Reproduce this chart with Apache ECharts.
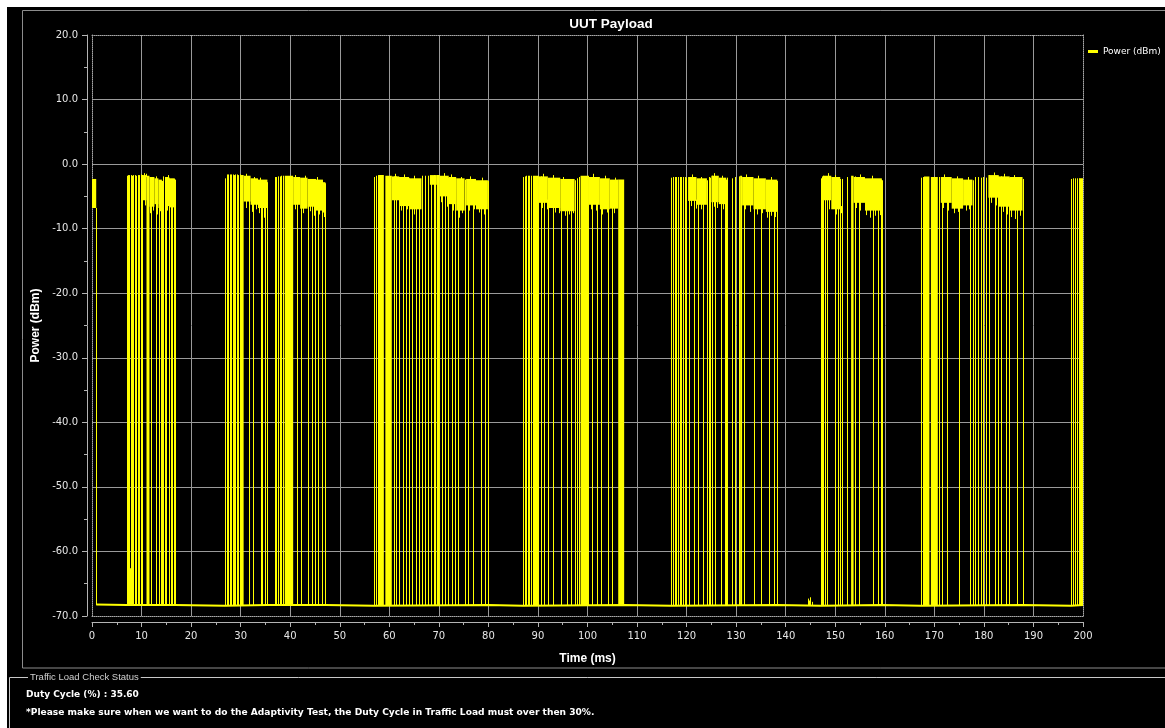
<!DOCTYPE html>
<html>
<head>
<meta charset="utf-8">
<script src="https://cdn.jsdelivr.net/npm/echarts@6/dist/echarts.min.js"></script>
<style>
html,body{margin:0;padding:0;background:#fff;}
#chart{width:1165px;height:728px;}
</style>
</head>
<body>
<div id="chart"></div>
<script>
// ---------- data (time in ms, power in dBm) ----------
const FLOOR = -68.3;

const xTicks = [0,10,20,30,40,50,60,70,80,90,100,110,120,130,140,150,160,170,180,190,200];
const yTicks = [-70,-60,-50,-40,-30,-20,-10,0,10,20];

// noise floor trace
const floorTrace = [[0.85,-68.2],[7.0,-68.3],[16.7,-68.3],[26.9,-68.4],[35.4,-68.3],[47.1,-68.3],
  [57.0,-68.4],[80.0,-68.3],[87.0,-68.4],[107.4,-68.3],[116.9,-68.4],[138.3,-68.3],[147.1,-68.4],
  [159.5,-68.3],[167.3,-68.4],[187.8,-68.3],[197.6,-68.4],[200,-68.3]];

// vertical packet edges: [time, peak level]
const packetEdges = [
  [0.85,-6.8],
  [7.0,-1.8],[7.3,-1.7],[7.5,-1.7],[7.6,-62.6],[7.8,-1.7],[8.1,-1.8],[8.3,-1.7],[8.6,-1.7],[8.9,-1.8],[9.2,-1.7],[9.5,-1.7],[9.8,-1.6],[10.0,-1.7],[10.1,-1.7],
  [12.0,-2.0],[12.9,-2.4],[13.6,-2.6],[13.9,-2.6],[14.1,-2.6],
  [14.3,-1.9],[14.7,-2.0],[15.0,-2.1],[15.5,-2.2],[15.9,-2.3],[16.2,-2.3],[16.5,-2.3],[16.7,-2.4],
  [26.9,-2.2],[27.2,-1.6],[27.5,-1.6],[27.8,-1.6],[28.1,-1.6],[28.4,-1.6],[28.6,-1.7],[28.9,-1.6],[29.2,-1.6],[29.5,-1.7],[29.8,-1.6],[30.0,-1.7],
  [31.7,-1.9],[32.5,-2.4],[34.2,-2.6],[34.4,-2.6],[35.0,-2.7],[35.4,-2.8],
  [36.9,-2.0],[37.2,-2.0],[37.6,-1.9],[37.9,-1.9],[38.2,-1.8],[38.6,-1.8],
  [41.4,-2.0],[42.1,-2.2],[43.5,-2.3],[44.3,-2.4],[45.0,-2.4],[45.7,-2.5],[46.4,-2.5],[47.0,-3.0],[47.1,-3.0],
  [57.0,-2.0],[57.4,-1.8],[57.8,-1.7],
  [60.9,-1.9],[61.4,-1.9],[61.9,-2.0],[62.7,-2.1],[63.3,-2.1],[63.9,-2.2],[64.6,-2.3],[65.3,-2.3],[65.9,-2.4],[66.5,-2.4],
  [66.6,-1.8],[67.2,-1.8],[67.8,-1.8],[68.5,-1.9],[69.0,-1.7],[69.3,-1.8],
  [70.7,-1.9],[71.3,-2.0],[71.9,-2.1],[72.6,-2.2],[73.2,-2.3],[73.8,-2.4],[75.3,-2.4],[75.9,-2.4],[76.8,-2.5],[78.6,-2.6],[79.4,-2.6],[79.9,-2.6],
  [87.0,-2.0],[87.3,-1.9],[87.6,-1.8],[87.9,-1.8],[88.2,-1.8],[88.6,-1.8],
  [90.6,-1.9],[91.2,-2.0],[92.1,-2.2],[93.0,-2.2],[94.7,-2.5],[95.9,-2.5],[96.7,-2.5],[97.4,-2.5],[97.8,-2.2],[98.2,-2.0],
  [101.0,-2.0],[102.0,-2.1],[102.7,-2.3],[104.1,-2.4],[105.0,-2.6],
  [116.9,-2.1],[117.2,-2.0],[117.6,-2.0],[117.9,-2.0],[118.3,-2.0],[118.6,-2.0],[118.9,-2.0],[119.3,-2.0],[119.6,-2.0],[119.9,-2.1],
  [120.4,-2.0],[121.4,-2.1],[122.4,-2.4],[123.4,-2.5],[124.1,-2.5],[124.5,-2.0],[124.8,-2.1],
  [125.1,-1.8],[125.8,-1.9],[127.0,-2.3],[127.7,-2.4],[128.0,-2.4],[128.2,-2.1],[129.1,-2.2],[129.7,-2.0],[130.5,-1.9],
  [131.6,-2.0],[133.6,-2.3],[135.0,-2.4],[136.6,-2.5],[137.6,-2.5],[138.3,-2.6],
  [144.4,-67.3],[144.7,-67.6],[145.0,-67.1],[145.3,-67.8],
  [147.1,-2.2],[147.4,-1.9],[147.6,-1.8],[147.9,-1.9],[148.3,-1.9],[149.9,-2.1],[150.6,-2.2],[151.0,-2.3],[151.3,-2.3],[152.3,-2.0],
  [153.9,-1.9],[154.7,-2.0],[157.6,-2.3],[158.6,-2.4],[159.3,-2.4],[159.5,-2.5],
  [167.3,-2.1],[167.7,-2.0],[170.9,-2.0],[171.6,-2.0],[172.5,-2.1],[175.0,-2.4],[177.2,-2.5],[177.7,-2.5],
  [178.2,-2.0],[178.8,-2.0],[179.4,-2.1],[179.9,-2.0],[180.5,-2.1],
  [181.1,-1.7],[182.2,-1.8],[182.8,-1.9],[183.4,-1.9],[184.4,-2.0],[185.1,-2.1],[186.6,-2.2],[187.8,-2.3],
  [197.6,-2.3],[198.0,-2.2],[198.4,-2.2],[198.8,-2.2],[199.2,-2.2]
];

// dense burst envelopes: [start ms, end ms, upper dBm, lower dBm]
const burstBands = [
  [0.0,0.85,-2.3,-6.8],
  [10.1,11.0,-1.7,-5.6],[11.0,11.6,-1.8,-68.3],[11.6,12.6,-2.0,-6.6],[12.6,13.4,-2.2,-6.2],[13.4,14.1,-2.4,-6.8],
  [14.9,15.6,-2.0,-6.5],[15.6,16.7,-2.2,-6.7],
  [30.2,30.6,-1.7,-68.3],[30.6,32.0,-1.8,-5.8],[32.0,33.5,-2.2,-6.3],[33.5,35.4,-2.4,-6.8],
  [38.9,40.6,-1.8,-68.3],[40.6,42.0,-2.0,-6.3],[42.0,43.5,-2.1,-6.9],[43.5,45.2,-2.3,-6.6],[45.2,46.6,-2.4,-7.2],[46.6,47.1,-2.8,-7.5],
  [57.9,58.9,-1.7,-68.3],[59.2,60.5,-1.8,-68.3],[60.5,62.0,-1.9,-5.6],[62.0,64.0,-2.0,-6.5],[64.0,66.5,-2.2,-7.0],
  [68.2,69.6,-1.7,-3.2],[69.6,70.2,-1.7,-68.3],[70.2,72.0,-1.8,-5.0],[72.0,73.5,-2.0,-6.2],[73.5,75.2,-2.2,-7.2],
  [75.5,77.5,-2.3,-6.4],[77.5,79.9,-2.5,-7.0],
  [89.0,90.2,-1.8,-68.3],[90.2,92.0,-1.9,-6.0],[92.0,94.5,-2.1,-6.8],[94.5,97.4,-2.3,-7.3],
  [98.6,100.3,-1.8,-68.3],[100.3,102.5,-2.0,-6.3],[102.5,104.5,-2.2,-7.0],[104.5,106.2,-2.4,-6.9],[106.2,107.4,-2.4,-68.3],
  [120.3,122.0,-2.0,-5.7],[122.0,124.1,-2.2,-6.3],[125.0,126.5,-1.8,-5.9],[126.5,128.0,-2.1,-6.2],
  [130.8,131.2,-1.8,-68.3],[131.2,133.5,-2.0,-6.4],[133.5,136.0,-2.2,-7.0],[136.0,138.3,-2.4,-7.4],
  [147.6,149.2,-1.8,-5.6],[149.2,151.0,-2.0,-7.0],
  [153.2,153.7,-1.8,-68.3],[153.7,156.0,-2.0,-6.0],[156.0,159.4,-2.2,-7.2],
  [167.9,169.0,-1.9,-68.3],[169.3,170.7,-2.0,-68.3],[171.3,173.5,-2.0,-6.0],[173.5,175.8,-2.2,-6.9],[175.8,177.7,-2.4,-6.4],
  [180.9,183.0,-1.7,-5.2],[183.0,185.2,-1.9,-6.6],[185.2,187.8,-2.0,-7.2],
  [199.3,200.0,-2.2,-68.3]
];

// short noise excursions on burst envelopes: [time, from dBm, to dBm]
const noiseSpikes = [
  [10.6,-5.0,-6.4],[11.8,-6.0,-7.6],[12.3,-6.0,-7.2],[13.1,-6.0,-7.8],[13.7,-6.0,-7.3],[15.2,-6.0,-7.2],[16.0,-6.0,-7.0],
  [31.0,-5.5,-6.8],[32.3,-6.0,-7.4],[33.0,-6.0,-7.0],[33.8,-6.0,-7.6],[34.8,-6.0,-8.3],
  [41.0,-6.0,-7.0],[42.5,-6.0,-7.6],[43.9,-6.0,-7.3],[44.8,-6.0,-8.0],[45.9,-6.5,-7.8],[46.8,-7.0,-8.2],
  [61.0,-5.0,-6.4],[62.3,-6.0,-7.2],[63.6,-6.0,-7.0],[64.9,-6.5,-7.8],[66.0,-6.5,-7.6],
  [70.5,-4.5,-5.9],[71.6,-4.5,-6.6],[72.8,-6.0,-7.2],[74.0,-6.5,-8.3],[74.7,-6.5,-7.6],[76.0,-6.0,-7.2],[77.0,-6.0,-7.0],[78.2,-6.5,-7.5],[79.1,-6.5,-7.8],
  [90.8,-5.5,-6.8],[91.8,-5.5,-7.0],[93.4,-6.5,-7.5],[94.3,-6.5,-7.6],[95.5,-7.0,-8.0],[96.3,-7.0,-7.8],[97.0,-7.0,-7.6],
  [100.8,-6.0,-7.0],[101.8,-6.0,-7.2],[103.0,-6.5,-7.8],[104.0,-6.5,-7.5],[105.4,-6.5,-7.6],
  [120.8,-5.5,-6.5],[121.8,-5.5,-6.9],[123.0,-6.0,-7.0],[125.5,-5.5,-6.6],[126.2,-5.5,-6.8],[127.4,-6.0,-7.0],
  [131.8,-6.0,-7.0],[132.8,-6.0,-7.4],[134.2,-6.5,-7.8],[135.3,-6.5,-7.6],[136.2,-7.0,-8.3],[137.0,-7.0,-8.0],[137.9,-7.0,-8.2],
  [148.0,-5.0,-6.4],[148.8,-5.0,-7.0],[150.2,-6.5,-7.8],[151.1,-6.5,-7.6],
  [154.2,-5.5,-6.8],[155.0,-5.5,-7.2],[156.3,-7.0,-7.9],[157.0,-7.0,-8.3],[158.0,-7.0,-8.0],[159.0,-7.0,-7.9],
  [171.8,-5.5,-6.8],[172.8,-5.5,-7.2],[174.0,-6.5,-7.6],[174.8,-6.5,-7.4],[176.3,-6.0,-7.2],[177.0,-6.0,-7.0],
  [181.5,-5.0,-6.0],[182.4,-5.0,-6.4],[183.8,-6.0,-7.4],[184.6,-6.0,-7.8],[185.5,-7.0,-8.2],[186.2,-7.0,-8.5],[187.3,-7.0,-8.0],
  [10.4,-2.0,-1.4],[10.9,-2.0,-1.5],[13.0,-2.5,-1.9],[15.3,-2.3,-1.7],[31.0,-2.0,-1.5],[32.6,-2.5,-2.0],[34.0,-2.6,-2.1],
  [41.0,-2.2,-1.7],[43.0,-2.3,-1.8],[45.5,-2.6,-2.0],[61.2,-2.0,-1.5],[63.0,-2.2,-1.6],[65.0,-2.4,-1.8],
  [71.0,-2.0,-1.4],[72.5,-2.2,-1.6],[74.5,-2.4,-2.0],[76.3,-2.5,-1.9],[78.8,-2.6,-2.1],
  [91.0,-2.0,-1.5],[93.0,-2.2,-1.7],[95.0,-2.4,-2.0],[101.2,-2.1,-1.5],[103.5,-2.3,-1.8],[105.5,-2.5,-2.1],
  [121.0,-2.1,-1.6],[123.0,-2.3,-2.0],[125.6,-2.0,-1.4],[127.2,-2.2,-1.8],[132.0,-2.1,-1.6],[134.5,-2.3,-1.8],[137.0,-2.5,-2.0],
  [148.5,-2.0,-1.4],[150.0,-2.1,-1.7],[155.0,-2.1,-1.6],[157.5,-2.3,-1.8],
  [172.0,-2.1,-1.6],[174.5,-2.3,-1.9],[176.8,-2.5,-2.0],[182.0,-1.8,-1.3],[184.0,-2.0,-1.5],[186.0,-2.1,-1.7]
];

const SERIES_NAME = 'Power (dBm)';
const TRACE_COLOR = '#ffff00';

// ---------- chart ----------
const chart = echarts.init(document.getElementById('chart'), null, {renderer:'canvas'});

const axisGray = '#b4b4b4';
const gridGray = '#9a9a9a';
const labelColor = '#e6e6e6';

function dottedX(pos){
  return {type:'value', min:xTicks[0], max:xTicks[xTicks.length-1], position:pos, offset:0,
    axisLine:{show:true, onZero:false, lineStyle:{color:'#a8a8a8', type:'dotted'}},
    axisTick:{show:false}, axisLabel:{show:false}, splitLine:{show:false}};
}
function dottedY(pos){
  return {type:'value', min:yTicks[0], max:yTicks[yTicks.length-1], position:pos, offset:0,
    axisLine:{show:true, onZero:false, lineStyle:{color:'#a8a8a8', type:'dotted'}},
    axisTick:{show:false}, axisLabel:{show:false}, splitLine:{show:false}};
}

function vLine(api, t, v0, v1){
  const a = api.coord([t, v0]);
  const b = api.coord([t, v1]);
  const x = Math.round(a[0]) + 0.5;
  return {type:'line', shape:{x1:x, y1:a[1], x2:x, y2:b[1]}, style:{stroke:TRACE_COLOR, lineWidth:1}};
}

const option = {
  backgroundColor:'#ffffff',
  animation:false,
  graphic:[
    {type:'rect', z:-100, silent:true, shape:{x:7,y:7,width:1158,height:721}, style:{fill:'#000000'}},
    {type:'rect', z:-90, silent:true, shape:{x:22.5,y:10.5,width:1160,height:657.5}, style:{fill:null, stroke:'#8c8c8c', lineWidth:1}},
    {type:'polyline', silent:true, shape:{points:[[9.5,728],[9.5,677.5],[1165,677.5]]}, style:{stroke:'#c8c8c8', fill:null, lineWidth:1}},
    {type:'text', silent:true, style:{x:28, y:677.5, text:'Traffic Load Check Status', fill:'#d0d0d0',
      font:'9.5px "Liberation Sans"', verticalAlign:'middle', backgroundColor:'#000', padding:[0,2]}},
    {type:'text', silent:true, style:{x:26, y:695, text:'Duty Cycle (%) : 35.60', fill:'#ffffff',
      font:'bold 9px "DejaVu Sans"', verticalAlign:'middle'}},
    {type:'text', silent:true, style:{x:26, y:713, text:'*Please make sure when we want to do the Adaptivity Test, the Duty Cycle in Traffic Load must over then 30%.', fill:'#ffffff',
      font:'bold 9.1px "DejaVu Sans"', verticalAlign:'middle'}},
    {type:'text', silent:true, style:{x:611, y:24, text:'UUT Payload', fill:'#ffffff',
      font:'bold 13.5px "Liberation Sans"', align:'center', verticalAlign:'middle'}}
  ],
  legend:{
    data:[SERIES_NAME], left:1088, top:47, padding:0, icon:'rect', itemWidth:10, itemHeight:3,
    textStyle:{color:'#ffffff', fontSize:9, fontFamily:'DejaVu Sans'}
  },
  grid:{left:92, right:82, top:35, bottom:112, containLabel:false},
  xAxis:[
    {type:'value', min:xTicks[0], max:xTicks[xTicks.length-1], interval:10, position:'bottom', offset:6,
      axisLine:{show:true, onZero:false, lineStyle:{color:axisGray}},
      axisTick:{show:true, length:5, lineStyle:{color:axisGray}},
      minorTick:{show:true, splitNumber:2, length:3, lineStyle:{color:axisGray}},
      axisLabel:{color:labelColor, fontSize:10, fontFamily:'DejaVu Sans', margin:9},
      splitLine:{show:true, showMinLine:false, showMaxLine:false, lineStyle:{color:gridGray, width:1}},
      name:'Time (ms)', nameLocation:'middle', nameGap:31,
      nameTextStyle:{color:'#ffffff', fontWeight:'bold', fontSize:12, fontFamily:'Liberation Sans'}},
    dottedX('bottom'), dottedX('top')
  ],
  yAxis:[
    {type:'value', min:yTicks[0], max:yTicks[yTicks.length-1], interval:10, position:'left', offset:5,
      axisLine:{show:true, onZero:false, lineStyle:{color:axisGray}},
      axisTick:{show:true, length:5, lineStyle:{color:axisGray}},
      minorTick:{show:true, splitNumber:2, length:3, lineStyle:{color:axisGray}},
      axisLabel:{color:labelColor, fontSize:10, fontFamily:'DejaVu Sans', margin:9, formatter:v=>v.toFixed(1)},
      splitLine:{show:true, showMinLine:false, showMaxLine:false, lineStyle:{color:gridGray, width:1}},
      name:'Power (dBm)', nameLocation:'middle', nameGap:45, nameRotate:90,
      nameTextStyle:{color:'#ffffff', fontWeight:'bold', fontSize:12, fontFamily:'Liberation Sans'}},
    dottedY('left'), dottedY('right')
  ],
  series:[
    {name:SERIES_NAME, type:'line', xAxisIndex:0, yAxisIndex:0, data:floorTrace, symbol:'none',
      lineStyle:{color:TRACE_COLOR, width:2}, itemStyle:{color:TRACE_COLOR}, silent:true, z:3},
    {name:SERIES_NAME, type:'custom', xAxisIndex:0, yAxisIndex:0, data:packetEdges, silent:true, z:3,
      encode:{x:0, y:1}, itemStyle:{color:TRACE_COLOR},
      renderItem:function(params, api){
        return vLine(api, api.value(0), FLOOR, api.value(1));
      }},
    {name:SERIES_NAME, type:'custom', xAxisIndex:0, yAxisIndex:0, data:burstBands, silent:true, z:4,
      encode:{x:[0,1], y:[2,3]}, itemStyle:{color:TRACE_COLOR},
      renderItem:function(params, api){
        const p0 = api.coord([api.value(0), api.value(2)]);
        const p1 = api.coord([api.value(1), api.value(3)]);
        return {type:'rect', shape:{x:p0[0], y:p0[1], width:Math.max(p1[0]-p0[0],1), height:p1[1]-p0[1]},
          style:{fill:TRACE_COLOR}};
      }},
    {name:SERIES_NAME, type:'custom', xAxisIndex:0, yAxisIndex:0, data:noiseSpikes, silent:true, z:4,
      encode:{x:0, y:[1,2]}, itemStyle:{color:TRACE_COLOR},
      renderItem:function(params, api){
        return vLine(api, api.value(0), api.value(1), api.value(2));
      }}
  ]
};
chart.setOption(option);
</script>
</body>
</html>
